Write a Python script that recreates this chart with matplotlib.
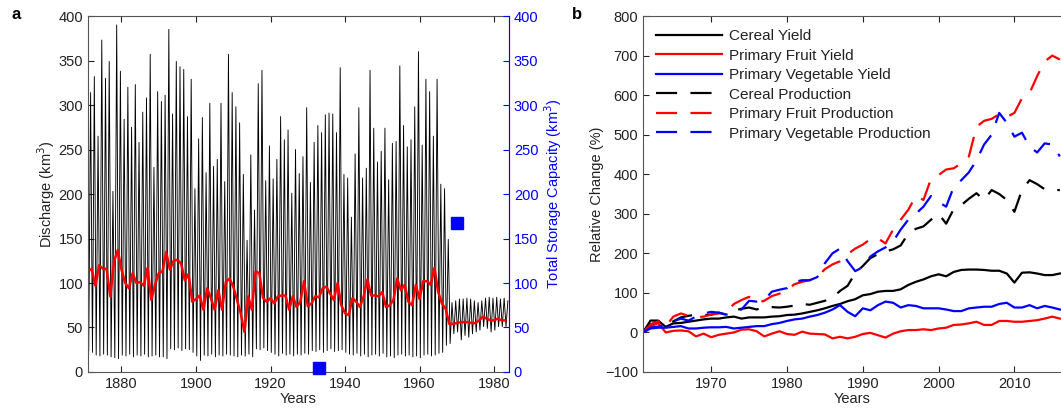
import numpy as np
import matplotlib
matplotlib.use('Agg')
import matplotlib.pyplot as plt

plt.rcParams['font.family'] = ['Liberation Sans', 'DejaVu Sans']
plt.rcParams['font.size'] = 10.5

# ---- panel a data: discharge (km^3), annual low / high flow and annual mean
flow_years = np.arange(1871, 1984)
flow_peak = [314, 332, 265, 373, 330, 349, 203, 390, 338, 284,
             320, 275, 323, 258, 292, 308, 357, 230, 315, 304,
             311, 385, 290, 349, 343, 340, 287, 329, 206, 262,
             286, 224, 302, 231, 239, 302, 214, 357, 314, 298,
             280, 222, 148, 244, 182, 324, 339, 215, 254, 217,
             239, 287, 261, 272, 201, 250, 223, 242, 297, 213,
             258, 277, 269, 289, 291, 290, 269, 342, 222, 218,
             174, 245, 297, 218, 229, 339, 274, 236, 248, 274,
             216, 257, 259, 344, 277, 253, 261, 298, 360, 255,
             329, 315, 265, 329, 211, 206, 149,
             78, 80, 82, 82, 83, 82, 80, 78, 80, 83, 84, 83, 84, 82, 83, 80]
flow_low = [24, 22, 19, 18, 20, 19, 17, 16, 15, 19,
            18, 20, 17, 19, 18, 20, 17, 18, 19, 17,
            17, 15, 26, 25, 27, 24, 26, 25, 22, 18,
            13, 19, 18, 20, 17, 19, 18, 20, 19, 18,
            17, 19, 18, 20, 17, 26, 25, 27, 24, 22,
            20, 18, 21, 19, 20, 18, 20, 19, 21, 20,
            24, 23, 25, 22, 24, 26, 23, 24, 25, 22,
            20, 19, 21, 18, 20, 17, 19, 20, 18, 21,
            17, 18, 16, 19, 20, 18, 19, 17, 18, 16,
            19, 20, 18, 19, 21, 22, 30,
            32, 43, 45, 36, 41, 39, 43, 45, 47, 51, 49, 45, 47, 51, 51, 51]
mean_flow = [113, 116, 97, 120, 116, 116, 85, 124, 137, 115,
             100, 94, 111, 100, 101, 97, 117, 81, 98, 111,
             113, 135, 115, 125, 126, 122, 103, 110, 79, 82,
             86, 70, 94, 83, 70, 92, 70, 101, 105, 96,
             81, 66, 45, 85, 70, 113, 111, 83, 79, 83,
             77, 85, 86, 86, 70, 85, 73, 79, 102, 74,
             77, 85, 84, 94, 96, 88, 81, 100, 75, 66,
             64, 83, 79, 73, 85, 104, 86, 86, 85, 90,
             73, 75, 81, 105, 92, 98, 79, 75, 98, 82,
             102, 102, 98, 117, 90, 77, 71,
             54, 54, 55, 56, 56, 56, 55, 55, 58, 62, 60, 58, 58, 60, 58, 58]
storage_years = [1933, 1970]
storage_cap = [5, 167]

# ---- panel b data: relative change (%)
crop_years = np.arange(1961, 2017)
cereal_yield = [0, 30, 30, 14, 23, 24, 27, 30, 33, 35,
                35, 38, 40, 35, 38, 38, 38, 40, 41, 44,
                45, 48, 52, 56, 61, 67, 72, 79, 84, 94,
                97, 103, 105, 105, 109, 120, 128, 134, 142, 147,
                142, 153, 158, 159, 159, 158, 156, 156, 149, 126,
                151, 152, 149, 145, 145, 149]
fruit_yield = [0, 15, 24, 0, 4, 5, 3, -10, -3, -12,
               -6, -3, 0, 7, 8, 3, -10, -3, 3, -4,
               -6, 2, -3, -4, -5, -15, -11, -15, -11, -4,
               -1, -7, -13, -3, 3, 6, 6, 8, 6, 10,
               12, 19, 20, 23, 27, 19, 19, 29, 29, 27,
               27, 29, 31, 35, 40, 35]
veg_yield = [0, 10, 12, 12, 14, 16, 10, 10, 12, 13,
             13, 14, 10, 12, 14, 16, 16, 21, 24, 29,
             33, 35, 40, 44, 50, 58, 69, 52, 41, 61,
             56, 69, 78, 75, 63, 69, 67, 61, 61, 61,
             58, 54, 54, 61, 63, 65, 65, 72, 75, 63,
             63, 69, 61, 67, 63, 58]
cereal_prod = [0, 20, 28, 20, 28, 38, 42, 45, 44, 45,
               50, 45, 55, 60, 63, 58, 65, 64, 63, 65,
               68, 72, 70, 75, 80, 88, 105, 118, 150, 168,
               188, 198, 205, 210, 220, 250, 262, 268, 285, 300,
               275, 312, 322, 338, 352, 335, 360, 350, 335, 305,
               360, 385, 375, 362, 360, 360]
fruit_prod = [0, 20, 28, 15, 40, 48, 42, 38, 40, 45,
              48, 52, 72, 82, 90, 75, 80, 92, 98, 108,
              122, 128, 132, 140, 160, 172, 180, 198, 212, 222,
              236, 238, 225, 260, 285, 310, 345, 335, 388, 398,
              412, 415, 428, 445, 520, 535, 540, 552, 545, 555,
              592, 605, 648, 685, 700, 690]
veg_prod = [0, 12, 15, 18, 28, 35, 30, 40, 48, 52,
            50, 45, 52, 58, 80, 78, 82, 103, 108, 112,
            128, 132, 132, 140, 175, 200, 212, 180, 155, 165,
            192, 205, 215, 230, 260, 285, 300, 318, 345, 330,
            318, 368, 385, 405, 435, 475, 500, 555, 530, 495,
            505, 470, 455, 478, 475, 445]

# monthly-ish discharge line: low flow in spring, peak in late summer
t = np.column_stack([flow_years + 2.5 / 12, flow_years + 8.5 / 12]).ravel()
q = np.column_stack([flow_low, flow_peak]).ravel()

spine_c = '#555555'
text_c = '#222222'

fig = plt.figure(figsize=(10.61, 4.12), dpi=100)

# ---------------- panel a
ax = fig.add_axes([0.0829, 0.0971, 0.3968, 0.864])
ax.plot(t, q, color='black', lw=0.65)
ax.plot(flow_years, mean_flow, color='red', lw=1.8)
ax.set_xlim(1871, 1984)
ax.set_ylim(0, 400)
ax.set_xticks(np.arange(1880, 1981, 20))
ax.set_yticks(np.arange(0, 401, 50))
ax.set_xlabel('Years', color=text_c, labelpad=1)
ax.set_ylabel('Discharge (km$^3$)', color=text_c, labelpad=1)
ax.tick_params(direction='in', top=True, right=False, length=4, colors=text_c,
               labelsize=10.5)
for s in ax.spines.values():
    s.set_color(spine_c)

ax2 = ax.twinx()
ax2.plot(storage_years, storage_cap, 's', color='blue', markersize=8, clip_on=False)
ax2.set_ylim(0, 400)
ax2.set_yticks(np.arange(0, 401, 50))
ax2.set_ylabel('Total Storage Capacity (km$^3$)', color='blue', labelpad=3)
ax2.tick_params(direction='in', length=4, colors='blue', labelsize=10.5)
ax2.spines['right'].set_color('blue')
for k in ['left', 'top', 'bottom']:
    ax2.spines[k].set_visible(False)

fig.text(0.011, 0.965, 'a', fontsize=12, fontweight='bold', va='center')

# ---------------- panel b
bx = fig.add_axes([0.606, 0.0971, 0.394, 0.864])
lw = 1.6
bx.plot(crop_years, cereal_yield, color='black', lw=lw, label='Cereal Yield')
bx.plot(crop_years, fruit_yield, color='red', lw=lw, label='Primary Fruit Yield')
bx.plot(crop_years, veg_yield, color='blue', lw=lw, label='Primary Vegetable Yield')
bx.plot(crop_years, cereal_prod, color='black', lw=lw, dashes=(9.5, 6), label='Cereal Production')
bx.plot(crop_years, fruit_prod, color='red', lw=lw, dashes=(9.5, 6), label='Primary Fruit Production')
bx.plot(crop_years, veg_prod, color='blue', lw=lw, dashes=(9.5, 6), label='Primary Vegetable Production')
bx.set_xlim(1961, 2016.15)
bx.set_ylim(-100, 800)
bx.set_xticks([1970, 1980, 1990, 2000, 2010])
bx.set_yticks(np.arange(-100, 801, 100))
bx.set_xlabel('Years', color=text_c, labelpad=1)
bx.set_ylabel('Relative Change (%)', color=text_c, labelpad=1)
bx.tick_params(direction='in', top=True, right=False, length=4, colors=text_c,
               labelsize=10.5)
for s in bx.spines.values():
    s.set_color(spine_c)
bx.spines['right'].set_visible(False)
leg = bx.legend(loc='upper left', bbox_to_anchor=(0.0, 1.0), frameon=False,
                fontsize=11, handlelength=4.3, handletextpad=0.5,
                labelspacing=0.36, borderaxespad=0.45)
for txt in leg.get_texts():
    txt.set_color(text_c)

fig.text(0.539, 0.965, 'b', fontsize=12, fontweight='bold', va='center')

fig.savefig('out.png', dpi=100)
